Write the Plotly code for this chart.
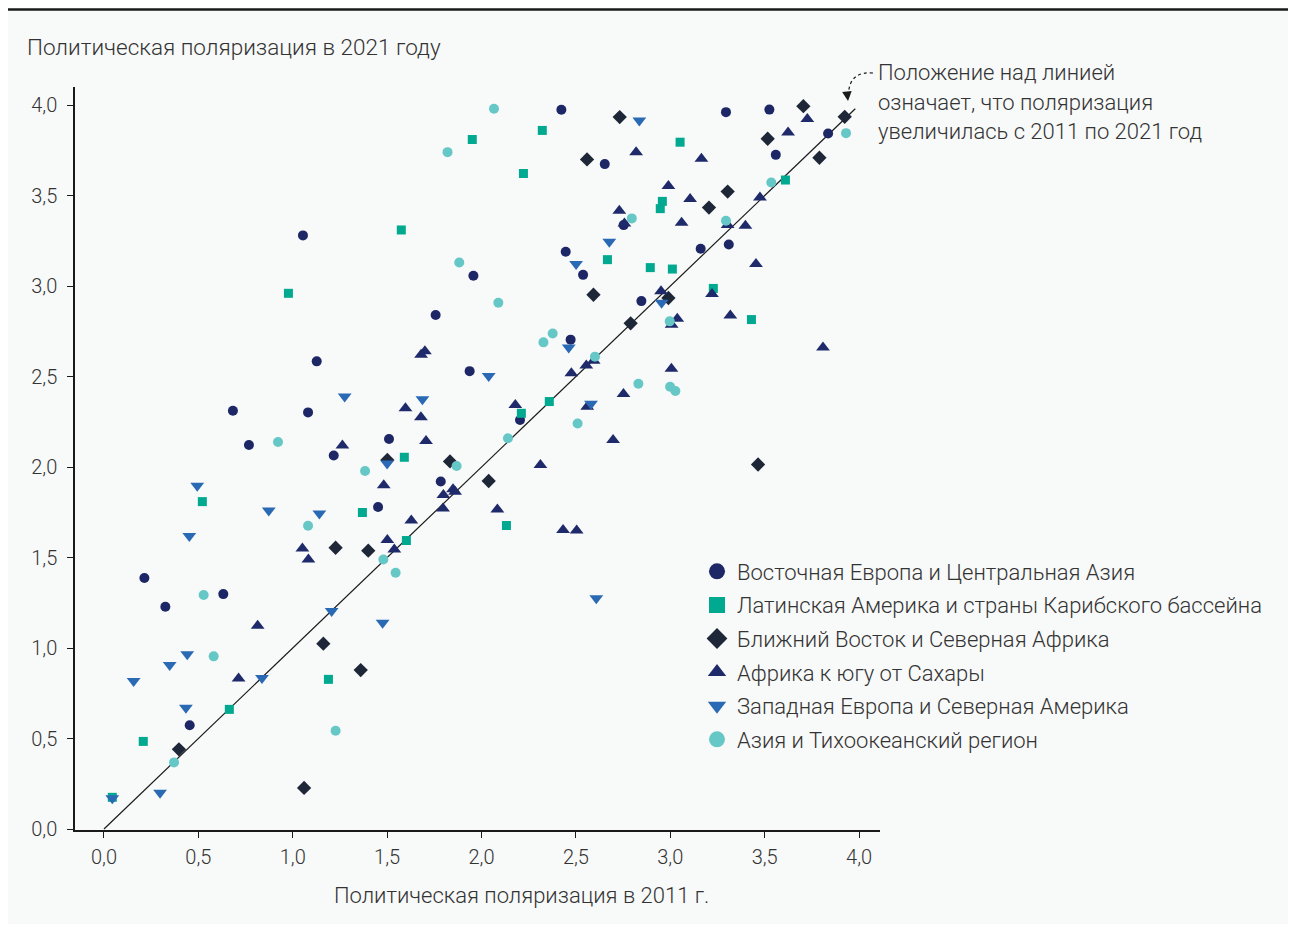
import plotly.graph_objects as go

# ---- data (x = 2011, y = 2021) ----
ee_x = [1.054, 1.957, 1.757, 1.127, 1.937, 1.081, 1.51, 1.217, 2.423, 2.653, 2.753, 2.446, 2.538, 2.847, 2.472,
        2.204, 3.295, 3.525, 3.836, 3.559, 3.161, 3.31, 0.214, 0.632, 0.325, 0.454, 1.784, 1.452, 0.683, 0.768]
ee_y = [3.28, 3.057, 2.84, 2.584, 2.53, 2.302, 2.155, 2.064, 3.974, 3.674, 3.337, 3.19, 3.062, 2.917, 2.704,
        2.26, 3.961, 3.975, 3.843, 3.725, 3.206, 3.23, 1.387, 1.298, 1.228, 0.573, 1.92, 1.779, 2.311, 2.122]

la_x = [1.951, 1.575, 0.977, 1.591, 2.322, 3.052, 2.222, 2.958, 2.947, 2.667, 2.894, 3.011, 2.359, 2.211, 3.61,
        3.228, 3.43, 0.521, 0.664, 0.208, 0.044, 1.369, 1.602, 1.189, 2.132]
la_y = [3.81, 3.31, 2.96, 2.054, 3.86, 3.795, 3.622, 3.468, 3.428, 3.146, 3.102, 3.094, 2.362, 2.297, 3.586,
        2.987, 2.815, 1.809, 0.661, 0.484, 0.175, 1.749, 1.594, 0.827, 1.677]

me_x = [1.501, 1.833, 2.732, 2.559, 2.593, 2.99, 2.79, 3.705, 3.924, 3.516, 3.79, 3.304, 3.205, 3.465, 0.397,
        1.227, 1.40, 1.162, 1.36, 1.06, 2.038]
me_y = [2.039, 2.031, 3.934, 3.70, 2.952, 2.934, 2.794, 3.994, 3.935, 3.814, 3.709, 3.522, 3.434, 2.014, 0.44,
        1.554, 1.538, 1.024, 0.878, 0.227, 1.923]

af_x = [1.70, 1.68, 1.597, 1.679, 1.706, 1.263, 2.819, 2.99, 2.73, 2.757, 3.06, 2.951, 3.007, 3.037, 2.594,
        2.555, 2.476, 3.006, 2.752, 2.179, 2.56, 2.697, 2.312, 3.726, 3.624, 3.165, 3.475, 3.105, 3.304, 3.398,
        3.454, 3.221, 3.318, 3.809, 0.814, 0.713, 1.482, 1.798, 1.849, 1.86, 1.796, 1.628, 1.051, 1.083, 1.501,
        1.538, 2.084, 2.432, 2.504]
af_y = [2.64, 2.62, 2.325, 2.275, 2.144, 2.119, 3.74, 3.553, 3.416, 3.346, 3.35, 2.971, 2.786, 2.82, 2.587,
        2.561, 2.518, 2.543, 2.403, 2.343, 2.333, 2.149, 2.011, 3.923, 3.849, 3.704, 3.489, 3.481, 3.337, 3.333,
        3.122, 2.956, 2.838, 2.661, 1.123, 0.832, 1.9, 1.845, 1.877, 1.864, 1.771, 1.704, 1.55, 1.489, 1.597,
        1.545, 1.766, 1.652, 1.65]

we_x = [1.275, 1.687, 1.50, 2.836, 2.677, 2.501, 2.954, 2.462, 2.038, 2.58, 0.494, 0.873, 0.452, 0.441, 0.348,
        0.157, 0.837, 0.434, 0.297, 0.044, 1.141, 1.206, 1.476, 2.608]
we_y = [2.39, 2.374, 2.02, 3.915, 3.245, 3.122, 2.908, 2.66, 2.503, 2.35, 1.897, 1.76, 1.619, 0.965, 0.906,
        0.818, 0.834, 0.67, 0.2, 0.17, 1.743, 1.204, 1.14, 1.275]

ap_x = [1.82, 1.882, 0.922, 1.868, 1.383, 2.066, 2.796, 2.089, 2.997, 2.377, 2.328, 2.601, 2.831, 2.999, 3.027,
        2.509, 2.14, 3.931, 3.535, 3.295, 0.528, 0.581, 0.371, 1.081, 1.48, 1.545, 1.227]
ap_y = [3.74, 3.13, 2.138, 2.006, 1.978, 3.98, 3.374, 2.908, 2.805, 2.738, 2.689, 2.61, 2.46, 2.444, 2.42,
        2.241, 2.159, 3.845, 3.572, 3.361, 1.293, 0.954, 0.368, 1.676, 1.489, 1.416, 0.543]

diag_x = [0.0, 3.98]
diag_y = [0.0, 3.98]

tick_vals = [0.0, 0.5, 1.0, 1.5, 2.0, 2.5, 3.0, 3.5, 4.0]
tick_text = ["0,0", "0,5", "1,0", "1,5", "2,0", "2,5", "3,0", "3,5", "4,0"]

regions = [
    ("Восточная Европа и Центральная Азия", ee_x, ee_y, "circle", "#1d2766", 10),
    ("Латинская Америка и страны Карибского бассейна", la_x, la_y, "square", "#00a98f", 9),
    ("Ближний Восток и Северная Африка", me_x, me_y, "diamond", "#1e2738", 11),
    ("Африка к югу от Сахары", af_x, af_y, "triangle-up", "#1f2a6a", 12),
    ("Западная Европа и Северная Америка", we_x, we_y, "triangle-down", "#2a6ab5", 12),
    ("Азия и Тихоокеанский регион", ap_x, ap_y, "circle", "#66c8c6", 10),
]

FONT = "Roboto"
WGT = 300
TXT = "#333333"
BG = "#f8f9f9"

fig = go.Figure()

fig.add_trace(go.Scatter(x=diag_x, y=diag_y, mode="lines",
                         line=dict(color="#1a1a1a", width=1.2),
                         showlegend=False, hoverinfo="skip"))

for i, (name, xs, ys, sym, col, sz) in enumerate(regions):
    fig.add_trace(go.Scatter(x=xs, y=ys, mode="markers", name=name,
                             marker=dict(symbol=sym, color=col, size=sz, line=dict(width=0)),
                             showlegend=False))

for i, (name, xs, ys, sym, col, sz) in enumerate(regions):
    fig.add_trace(go.Scatter(x=[None], y=[None], mode="markers", name=name,
                             legendgroup="g%d" % i,
                             marker=dict(symbol=sym, color=col, size=18, line=dict(width=0)),
                             showlegend=True))

# page body has an 8px margin: figure coords = screen coords - 8
OFF = 8
FW, FH = 1296 - 2 * OFF, 932 - 2 * OFF
# plot area in screen pixels: x 75..880, y 87..830
L, R, T, B = 75 - OFF, 880 - OFF, 87 - OFF, 830 - OFF
W, H = R - L, B - T

def px(xs):
    return (xs - OFF - L) / W

def py(ys):
    return (B - (ys - OFF)) / H

def tfont(size):
    return dict(family=FONT, size=size, color=TXT, weight=WGT)

annotations = [
    dict(x=px(25), y=py(47), xref="paper", yref="paper", xanchor="left", yanchor="middle",
         text="Политическая поляризация в 2021 году", showarrow=False, font=tfont(22.5)),
    dict(x=px(521), y=py(895), xref="paper", yref="paper", xanchor="center", yanchor="middle",
         text="Политическая поляризация в 2011 г.", showarrow=False, font=tfont(22)),
]
for txt, yy in [("Положение над линией", 73), ("означает, что поляризация", 102),
                ("увеличилась с 2011 по 2021 год", 131)]:
    annotations.append(dict(x=px(876), y=py(yy), xref="paper", yref="paper", xanchor="left",
                            yanchor="middle", text=txt, showarrow=False, font=tfont(22)))
# arrow head
annotations.append(dict(x=px(848), y=py(101), xref="paper", yref="paper", text="",
                        showarrow=True, arrowhead=2, arrowsize=1.6, arrowwidth=1.2,
                        arrowcolor="#1a1a1a", ax=-1, ay=-9))

shapes = [
    dict(type="line", xref="paper", yref="paper", x0=px(8), x1=px(1288), y0=py(9.5), y1=py(9.5),
         line=dict(color="#1a1a1a", width=2.5)),
    dict(type="path", xref="paper", yref="paper",
         path="M %f,%f Q %f,%f %f,%f" % (px(873), py(73), px(850), py(71), px(848.5), py(93)),
         line=dict(color="#1a1a1a", width=1.2, dash="dot")),
]

fig.update_layout(
    width=FW, height=FH,
    margin=dict(l=L, r=FW - R, t=T, b=FH - B, pad=0),
    paper_bgcolor=BG, plot_bgcolor=BG,
    font=dict(family=FONT, color=TXT, size=20, weight=WGT),
    showlegend=True,
    legend=dict(x=px(697), y=py(550.5), xanchor="left", yanchor="top",
                font=tfont(22),
                bgcolor="rgba(0,0,0,0)", tracegroupgap=2, itemsizing="trace"),
    annotations=annotations,
    shapes=shapes,
    xaxis=dict(range=[-0.1536, 4.111], showgrid=False, zeroline=False,
               showline=True, linecolor="#1a1a1a", linewidth=1.5,
               ticks="outside", ticklen=6, tickcolor="#1a1a1a", tickwidth=1.2,
               tickvals=tick_vals, ticktext=tick_text, ticklabelstandoff=2,
               tickfont=tfont(20)),
    yaxis=dict(range=[-0.0055, 4.1], showgrid=False, zeroline=False,
               showline=True, linecolor="#1a1a1a", linewidth=1.5,
               ticks="outside", ticklen=6, tickcolor="#1a1a1a", tickwidth=1.2,
               tickvals=tick_vals, ticktext=tick_text, ticklabelstandoff=6,
               tickfont=tfont(20)),
)

fig.write_html("out.html")
